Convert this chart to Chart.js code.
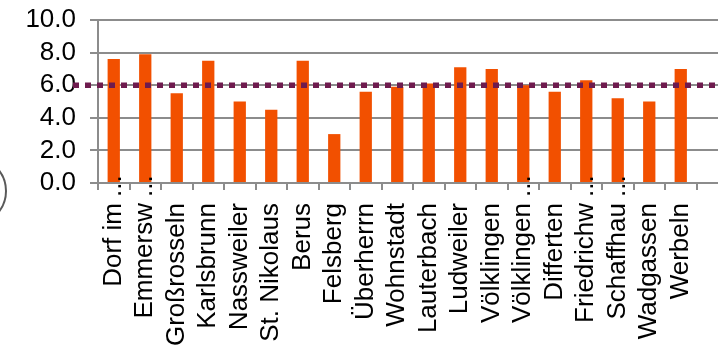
<!DOCTYPE html>
<html><head><meta charset="utf-8">
<script src="https://cdn.jsdelivr.net/npm/chart.js@4"></script>
<style>
html,body{margin:0;padding:0;background:#fff;overflow:hidden;width:718px;height:346px;}
#wrap{position:relative;width:728px;height:346px;}
#ring{position:absolute;left:-63px;top:156px;width:70px;height:70px;border:2.5px solid #595959;border-radius:50%;box-sizing:border-box;}
</style></head><body>
<div id="wrap"><canvas id="c" width="728" height="346"></canvas><div id="ring"></div></div>
<script>
const categories = ['Dorf im...', 'Emmersw...', 'Großrosseln', 'Karlsbrunn', 'Nassweiler', 'St. Nikolaus', 'Berus', 'Felsberg', 'Überherrn', 'Wohnstadt', 'Lauterbach', 'Ludweiler', 'Völklingen', 'Völklingen...', 'Differten', 'Friedrichw...', 'Schaffhau...', 'Wadgassen', 'Werbeln'];
const values = [7.6, 7.9, 5.5, 7.5, 5.0, 4.5, 7.5, 3.0, 5.6, 5.9, 6.1, 7.1, 7.0, 6.0, 5.6, 6.3, 5.2, 5.0, 7.0];
const targetValue = [6.0];
const yTicks = [0, 2, 4, 6, 8, 10];

const FONT = "'Liberation Sans', Arial, sans-serif";
const GRID = '#8c8c8c';
const ELL = '...';

// one extra empty slot: the axis of the original continues past the picture's right edge
const xLabels = categories.concat(['']);

const overlay = {
  id: 'overlay',
  afterDatasetsDraw(chart) {
    const {ctx, chartArea, scales} = chart;
    const py = scales.y.getPixelForValue(targetValue[0]);
    ctx.save();
    ctx.strokeStyle = '#6e1b4e';
    ctx.lineWidth = 5.5;
    ctx.setLineDash([6, 6]);
    ctx.beginPath();
    ctx.moveTo(chartArea.left - 25, py);
    ctx.lineTo(chart.width, py);
    ctx.stroke();
    ctx.restore();
  },
  afterDraw(chart) {
    const {ctx, chartArea, scales} = chart;
    ctx.save();
    ctx.fillStyle = '#000';
    ctx.font = '26px ' + FONT;
    ctx.textAlign = 'left';
    ctx.textBaseline = 'middle';
    categories.forEach((c, i) => {
      if (c.endsWith(ELL)) {
        const px = scales.x.getPixelForValue(i);
        ctx.save();
        ctx.translate(px, chartArea.bottom + 14);
        ctx.rotate(-Math.PI / 2);
        ctx.fillText(ELL, 0, 0);
        ctx.restore();
      }
    });
    ctx.restore();
  }
};

new Chart(document.getElementById('c'), {
  type: 'bar',
  data: {
    labels: xLabels,
    datasets: [{
      data: values,
      backgroundColor: '#f25000',
      borderWidth: 0,
      categoryPercentage: 1,
      barPercentage: 0.39
    }]
  },
  options: {
    responsive: false,
    animation: false,
    layout: {padding: {top: 20, left: 0, right: 0, bottom: 0}},
    plugins: {legend: {display: false}, tooltip: {enabled: false}},
    scales: {
      x: {
        grid: {offset: true, drawOnChartArea: false, drawTicks: true, tickLength: 7, color: GRID, lineWidth: 2},
        border: {color: GRID, width: 2},
        ticks: {
          autoSkip: false, minRotation: 90, maxRotation: 90, padding: 13,
          color: '#000', font: {family: FONT, size: 26},
          callback: function(v, i) {
            const s = xLabels[i] || '';
            return s.endsWith(ELL) ? s.slice(0, -ELL.length) : s;
          }
        },
        afterFit(scale) { scale.height = 163; scale.paddingLeft = 0; scale.paddingRight = 0; }
      },
      y: {
        min: 0, max: 10,
        afterBuildTicks(scale) { scale.ticks = yTicks.map(v => ({value: v})); },
        grid: {color: GRID, lineWidth: 2, tickLength: 8},
        border: {color: GRID, width: 2},
        ticks: {
          autoSkip: false,
          padding: 14, color: '#000', font: {family: FONT, size: 26},
          callback: v => Number(v).toFixed(1)
        },
        afterFit(scale) { scale.width = 98; scale.paddingTop = 0; scale.paddingBottom = 0; }
      }
    }
  },
  plugins: [overlay]
});
</script>
</body></html>
